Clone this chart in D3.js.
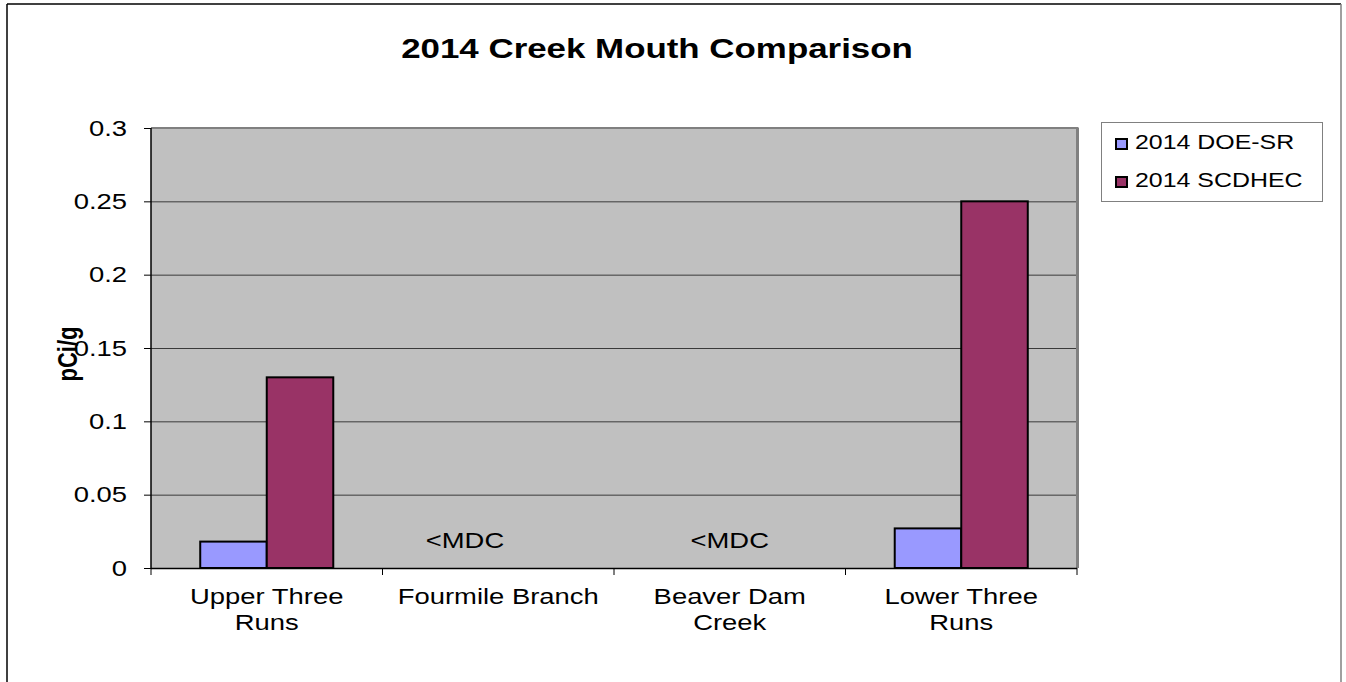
<!DOCTYPE html>
<html>
<head>
<meta charset="utf-8">
<script src="https://cdn.jsdelivr.net/npm/d3@7"></script>
<style>
  html, body { margin: 0; padding: 0; background: #fff; }
  svg { display: block; font-family: "Liberation Sans", Arial, sans-serif; }
</style>
</head>
<body>
<svg id="chart" width="1346" height="682"></svg>
<script>
// ---- data ----
const title = "2014 Creek Mouth Comparison";
const yLabel = "pCi/g";
const categories = ["Upper Three Runs", "Fourmile Branch", "Beaver Dam Creek", "Lower Three Runs"];
const categoryLines = [["Upper Three", "Runs"], ["Fourmile Branch"], ["Beaver Dam", "Creek"], ["Lower Three", "Runs"]];
const seriesNames = ["2014 DOE-SR", "2014 SCDHEC"];
const doeValues = [0.018, null, null, 0.027];
const scdhecValues = [0.13, null, null, 0.25];
const yTicks = [0, 0.05, 0.1, 0.15, 0.2, 0.25, 0.3];
const annotations = [
  { category: "Fourmile Branch", series: "2014 DOE-SR", text: "<MDC", value: 0.0136 },
  { category: "Beaver Dam Creek", series: null, text: "<MDC", value: 0.0136 }
];
const colors = ["#9999FF", "#993366"];

// ---- layout ----
const SX = 1.246; // horizontal stretch of text in the reference
const plot = { left: 151, right: 1077, top: 128, bottom: 568 };
const svg = d3.select("#chart");

// outer frame
svg.append("line").attr("x1", 7).attr("y1", 4).attr("x2", 1341).attr("y2", 4).attr("stroke", "#000").attr("stroke-width", 1.5);
svg.append("line").attr("x1", 7).attr("y1", 4).attr("x2", 7).attr("y2", 682).attr("stroke", "#000").attr("stroke-width", 1.5);
svg.append("line").attr("x1", 1341).attr("y1", 4).attr("x2", 1341).attr("y2", 682).attr("stroke", "#808080").attr("stroke-width", 1.5);

const x0 = d3.scaleBand().domain(categories).range([plot.left, plot.right]).paddingInner(0).paddingOuter(0);
const x1 = d3.scaleBand().domain(seriesNames).range([0, x0.bandwidth()]).paddingInner(0).paddingOuter(0.74);
const y = d3.scaleLinear().domain([0, 0.3]).range([plot.bottom, plot.top]);

function stretched(sel, x, yy) {
  return sel.attr("transform", `translate(${x},${yy}) scale(${SX},1)`);
}

// plot background
svg.append("rect").attr("x", plot.left).attr("y", plot.top)
  .attr("width", plot.right - plot.left).attr("height", plot.bottom - plot.top)
  .attr("fill", "#C0C0C0");

// gridlines
svg.append("g").selectAll("line").data(yTicks.filter(d => d > 0 && d < 0.3)).join("line")
  .attr("x1", plot.left).attr("x2", plot.right)
  .attr("y1", d => y(d) + 0.5).attr("y2", d => y(d) + 0.5)
  .attr("stroke", "#3a3a3a").attr("stroke-width", 1);

// top and right border (gray)
svg.append("line").attr("x1", plot.left).attr("x2", plot.right + 1.5).attr("y1", plot.top).attr("y2", plot.top)
  .attr("stroke", "#808080").attr("stroke-width", 2);
svg.append("line").attr("x1", plot.right + 0.5).attr("x2", plot.right + 0.5).attr("y1", plot.top).attr("y2", plot.bottom)
  .attr("stroke", "#808080").attr("stroke-width", 3);

// bars
const seriesData = [doeValues, scdhecValues];
seriesData.forEach((vals, si) => {
  svg.append("g").selectAll("rect")
    .data(categories.map((c, i) => ({ c, v: vals[i] })).filter(d => d.v != null))
    .join("rect")
    .attr("x", d => x0(d.c) + x1(seriesNames[si]))
    .attr("y", d => y(d.v))
    .attr("width", x1.bandwidth())
    .attr("height", d => y(0) - y(d.v))
    .attr("fill", colors[si])
    .attr("stroke", "#000").attr("stroke-width", 2);
});

// annotations
annotations.forEach(a => {
  const cx = a.series ? x0(a.category) + x1(a.series) + x1.bandwidth() / 2 : x0(a.category) + x0.bandwidth() / 2;
  stretched(svg.append("text"), cx, y(a.value))
    .attr("text-anchor", "middle").attr("font-size", 22).attr("fill", "#000").text(a.text);
});

// y axis
const yAxis = d3.axisLeft(y).tickValues(yTicks).tickSize(7).tickPadding(0)
  .tickFormat(d => String(+d.toFixed(2)));
const gy = svg.append("g").attr("transform", `translate(${plot.left},0)`).call(yAxis);
gy.select(".domain").remove();
gy.selectAll(".tick line").attr("stroke", "#000").attr("stroke-width", 1);
gy.selectAll(".tick text")
  .attr("x", -24 / SX).attr("dy", "0.33em")
  .attr("transform", `scale(${SX},1)`)
  .attr("font-size", 22).attr("font-family", "Liberation Sans, Arial, sans-serif").attr("fill", "#000");
svg.append("line").attr("x1", plot.left).attr("x2", plot.left).attr("y1", plot.top).attr("y2", plot.bottom + 1)
  .attr("stroke", "#000").attr("stroke-width", 1.5);

// x axis
const tickXs = categories.map(c => x0(c)).concat([plot.right]);
svg.append("g").selectAll("line").data(tickXs).join("line")
  .attr("x1", d => d).attr("x2", d => d).attr("y1", plot.bottom).attr("y2", plot.bottom + 7)
  .attr("stroke", "#000").attr("stroke-width", 1);
svg.append("line").attr("x1", plot.left).attr("x2", plot.right).attr("y1", plot.bottom + 0.5).attr("y2", plot.bottom + 0.5)
  .attr("stroke", "#000").attr("stroke-width", 1.5);

categories.forEach((c, i) => {
  const cx = x0(c) + x0.bandwidth() / 2;
  categoryLines[i].forEach((ln, j) => {
    stretched(svg.append("text"), cx, 604 + j * 26)
      .attr("text-anchor", "middle").attr("font-size", 22).attr("fill", "#000").text(ln);
  });
});

// title
stretched(svg.append("text"), 657, 58)
  .attr("text-anchor", "middle").attr("font-size", 28).attr("font-weight", "bold").attr("fill", "#000").text(title);

// y label
svg.append("text")
  .attr("transform", `translate(77,354) scale(${SX},1) rotate(-90)`)
  .attr("text-anchor", "middle").attr("font-size", 22).attr("font-weight", "bold").attr("fill", "#000").text(yLabel);

// legend
const lg = svg.append("g");
lg.append("rect").attr("x", 1101.5).attr("y", 122.5).attr("width", 221).attr("height", 79)
  .attr("fill", "#fff").attr("stroke", "#808080").attr("stroke-width", 1);
const legendYs = [149, 187];
seriesNames.forEach((s, i) => {
  lg.append("rect").attr("x", 1116).attr("y", legendYs[i] - 10).attr("width", 11).attr("height", 10)
    .attr("fill", colors[i]).attr("stroke", "#000").attr("stroke-width", 2);
  stretched(lg.append("text"), 1135, legendYs[i])
    .attr("font-size", 20).attr("fill", "#000").text(s);
});
</script>
</body>
</html>
